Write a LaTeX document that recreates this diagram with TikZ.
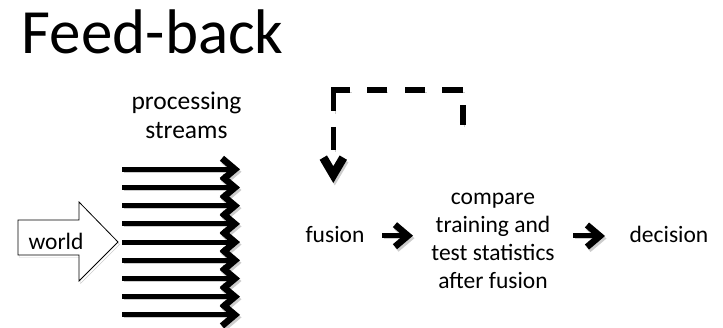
\documentclass[tikz,border=0pt]{standalone}
\usepackage{fontspec}
\setmainfont{Carlito}
\usetikzlibrary{arrows.meta}
\begin{document}
\begin{tikzpicture}[x=1pt,y=-1pt,
  txt/.style={font=\fontsize{23.5}{28}\selectfont, align=center, inner sep=0pt},
  shadowed/.style={preaction={draw=black!20, transform canvas={shift={(1.5,2.5)}}}},
  chevron/.style={-{Straight Barb[length=13pt,width=22pt,line width=6.5pt]}},
  flow/.style={line width=5pt, shadowed, chevron},
  fbdash/.style={dash pattern=on 20pt off 15pt on 21.5pt off 16.5pt on 20pt off 18.5pt on 20pt off 16.5pt on 38pt off 15.5pt on 23pt off 60pt},
  feedback/.style={line width=5.5pt, fbdash,
    preaction={draw=black!20, fbdash, transform canvas={shift={(1.5,2.5)}}},
    -{Straight Barb[length=17pt,width=20pt,line width=8.5pt]}}]
\useasboundingbox (0,0) rectangle (723,328);

% title
\node[anchor=base west, inner sep=0pt, font=\fontsize{63}{63}\selectfont] (title) at (21.7,53.3) {Feed-back};

% world input arrow
\draw[line width=0.8pt, fill=white, shadowed]
  (18,220) -- (79,220) -- (79,202) -- (118,242) -- (79,281) -- (79,255) -- (18,255) -- cycle;
\node[txt, anchor=base] (world) at (56,250) {world};

% parallel processing streams
\node[txt, font=\fontsize{25.5}{28.7}\selectfont] (streams) at (186.5,115.5) {processing\\streams};
\foreach \i in {0,...,8}{
  \coordinate (s\i a) at (122,{169.3+18.2*\i});
  \coordinate (s\i b) at (240,{169.3+18.2*\i});
  \draw[flow] (s\i a) -- (s\i b);
}

% fusion and decision chain
\node[txt, anchor=base] (fusion) at (335,242.7) {fusion};
\node[txt] (compare) at (493,240.5) {compare\\training and\\test statistics\\after fusion};
\node[txt, anchor=base] (decision) at (669,242.7) {decision};
\coordinate (f1) at (382,235.7);
\coordinate (f2) at (413,235.7);
\coordinate (d1) at (573,236);
\coordinate (d2) at (605,236);
\draw[flow] (f1) -- (f2);
\draw[flow] (d1) -- (d2);

% dashed feedback loop
\coordinate (fbstart) at (463,125);
\coordinate (fbend) at (333.3,183);
\draw[feedback] (fbstart) -- (463,90) -- (333.3,90) -- (fbend);
\end{tikzpicture}
\end{document}
